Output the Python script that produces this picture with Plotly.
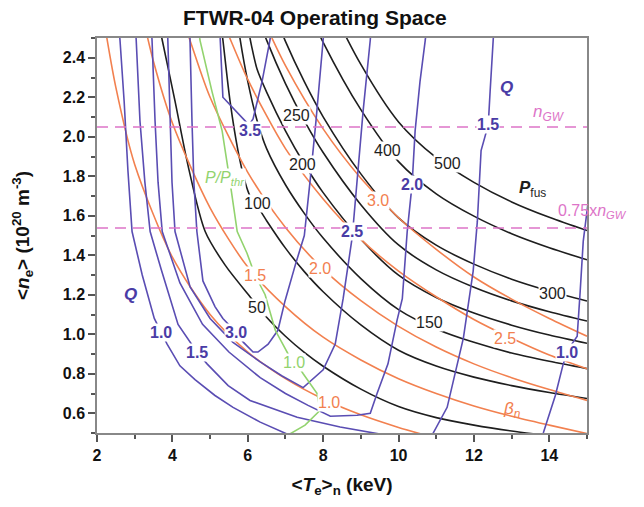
import plotly.graph_objects as go

# ---------------- data ----------------
# Fusion power contours P_fus (MW): T (keV), n (1e20 m^-3)
P50_T = [3.65, 3.73, 4.07, 4.42, 4.87, 5.40, 6.06, 6.5, 7.0, 7.5, 8.0, 9.0, 10.0, 11.0, 12.0, 13.0, 14.0]
P50_n = [2.56, 2.49, 2.18, 1.85, 1.52, 1.35, 1.19, 1.086, 0.99, 0.908, 0.838, 0.722, 0.634, 0.578, 0.54, 0.51, 0.486]
P100_T = [5.30, 5.34, 5.53, 5.74, 5.93, 6.06, 6.25, 6.5, 7.0, 7.5, 8.0, 9.0, 10.0, 11.0, 12.0, 13.0, 14.0, 15.0]
P100_n = [2.55, 2.49, 2.18, 1.93, 1.77, 1.70, 1.65, 1.575, 1.436, 1.317, 1.215, 1.047, 0.919, 0.839, 0.783, 0.740,
          0.705, 0.675]
P150_T = [5.72, 5.80, 6.0, 6.25, 6.5, 7.0, 7.5, 8.0, 9.0, 10.0, 11.0, 12.0, 13.0, 14.0, 15.0]
P150_n = [2.60, 2.49, 2.28, 2.08, 1.94, 1.757, 1.612, 1.487, 1.282, 1.125, 1.027, 0.959, 0.905, 0.863, 0.826]
P200_T = [6.0, 6.1, 6.25, 6.5, 7.0, 7.5, 8.0, 9.0, 10.0, 11.0, 12.0, 13.0, 14.0, 15.0]
P200_n = [2.56, 2.46, 2.34, 2.226, 2.03, 1.862, 1.717, 1.481, 1.299, 1.186, 1.107, 1.046, 0.996, 0.954]
P250_T = [6.0, 6.5, 7.0, 7.5, 8.0, 9.0, 10.0, 11.0, 12.0, 13.0, 14.0, 15.0]
P250_n = [2.75, 2.489, 2.269, 2.082, 1.92, 1.656, 1.452, 1.326, 1.238, 1.169, 1.114, 1.067]
P300_T = [6.5, 7.0, 7.5, 8.0, 9.0, 10.0, 11.0, 12.0, 13.0, 14.0, 15.0]
P300_n = [2.724, 2.483, 2.279, 2.101, 1.812, 1.589, 1.451, 1.355, 1.279, 1.219, 1.168]
P400_T = [7.0, 7.5, 8.0, 9.0, 10.0, 11.0, 12.0, 13.0, 14.0, 15.0]
P400_n = [2.929, 2.687, 2.478, 2.137, 1.874, 1.711, 1.598, 1.509, 1.438, 1.377]
P500_T = [7.5, 8.0, 9.0, 10.0, 11.0, 12.0, 13.0, 14.0, 15.0]
P500_n = [2.975, 2.743, 2.366, 2.075, 1.894, 1.769, 1.670, 1.592, 1.525]

# Normalised beta contours
B10_T = [2.2, 2.5, 3.0, 4.0, 5.0, 6.0, 7.0, 8.0, 9.0, 10.0, 10.6]
B10_n = [2.57, 2.25, 1.86, 1.39, 1.10, 0.91, 0.775, 0.672, 0.592, 0.528, 0.495]
B15_T = [3.2, 3.5, 4.0, 5.0, 6.0, 7.0, 8.0, 9.0, 10.0, 11.0, 12.0, 13.0, 14.0, 15.0]
B15_n = [2.62, 2.38, 2.07, 1.64, 1.34, 1.14, 0.985, 0.87, 0.775, 0.70, 0.637, 0.585, 0.54, 0.497]
B20_T = [4.3, 4.5, 5.0, 6.0, 7.0, 8.0, 9.0, 10.0, 11.0, 12.0, 13.0, 14.0, 15.0]
B20_n = [2.58, 2.47, 2.2, 1.82, 1.54, 1.33, 1.17, 1.04, 0.935, 0.85, 0.78, 0.72, 0.665]
B25_T = [5.3, 5.5, 6.0, 7.0, 8.0, 9.0, 10.0, 11.0, 12.0, 13.0, 14.0, 15.0]
B25_n = [2.6, 2.51, 2.29, 1.94, 1.685, 1.48, 1.32, 1.19, 1.075, 0.98, 0.895, 0.825]
B30_T = [6.4, 7.0, 8.0, 9.0, 10.0, 11.0, 12.0, 13.0, 14.0, 15.0]
B30_n = [2.6, 2.36, 2.04, 1.79, 1.59, 1.43, 1.29, 1.178, 1.08, 0.99]

# Fusion gain Q contours
Q10L_T = [2.58, 2.61, 2.72, 2.82, 2.93, 3.20, 3.52, 3.70, 3.86, 4.20, 4.60, 5.13, 5.61, 6.33, 7.10]
Q10L_n = [2.55, 2.49, 2.18, 1.83, 1.52, 1.30, 1.08, 1.01, 0.95, 0.84, 0.77, 0.69, 0.63, 0.555, 0.49]
Q10R_T = [15.05, 14.90, 14.82, 14.74, 14.56, 14.48, 14.37, 14.16, 13.84, 13.80]
Q10R_n = [1.70, 1.47, 1.22, 0.99, 0.94, 0.91, 0.85, 0.69, 0.50, 0.48]
Q15L_T = [3.02, 3.04, 3.14, 3.27, 3.41, 3.70, 4.15, 4.65, 4.92, 5.48, 6.06, 7.31, 8.45, 9.38, 9.50]
Q15L_n = [2.55, 2.49, 2.08, 1.77, 1.52, 1.33, 1.05, 0.91, 0.85, 0.74, 0.665, 0.58, 0.53, 0.50, 0.495]
Q15R_T = [10.88, 10.92, 11.29, 11.72, 11.98, 12.09, 12.19, 12.38, 12.43, 12.51, 12.53]
Q15R_n = [0.48, 0.50, 0.63, 0.98, 1.32, 1.57, 1.93, 2.06, 2.23, 2.49, 2.55]
Q20_T = [3.44, 3.46, 3.54, 3.62, 3.73, 4.20, 4.80, 5.50, 6.33, 7.00, 7.60, 8.19, 8.90, 9.25, 9.43, 9.72, 9.96,
         10.10, 10.23, 10.36, 10.44, 10.57, 10.71, 10.74]
Q20_n = [2.55, 2.49, 2.08, 1.77, 1.52, 1.26, 1.05, 0.91, 0.78, 0.70, 0.64, 0.585, 0.59, 0.60, 0.70, 0.85, 1.07,
         1.18, 1.52, 1.76, 2.03, 2.28, 2.49, 2.55]
Q25_T = [3.87, 3.88, 3.94, 3.99, 4.07, 4.47, 5.00, 5.60, 6.33, 6.90, 7.47, 8.00, 8.32, 8.53, 8.77, 8.90, 9.06, 9.25, 9.27]
Q25_n = [2.55, 2.49, 2.08, 1.77, 1.52, 1.24, 1.08, 0.96, 0.86, 0.79, 0.73, 0.82, 0.95, 1.18, 1.49, 1.77, 2.13, 2.49, 2.55]
Q30_T = [4.46, 4.47, 4.52, 4.57, 4.65, 4.81, 5.13, 5.34, 5.69, 5.88, 6.14, 6.27, 6.54, 6.80, 6.99, 7.26, 7.50,
         7.65, 7.81, 8.00, 8.02]
Q30_n = [2.55, 2.49, 2.08, 1.77, 1.52, 1.27, 1.14, 1.08, 1.01, 0.96, 0.91, 0.91, 0.95, 1.02, 1.17, 1.35, 1.50,
         1.77, 2.08, 2.49, 2.55]
Q35_T = [5.26, 5.27, 5.34, 5.88, 6.03, 6.14, 6.38, 6.59, 6.62]
Q35_n = [2.55, 2.49, 2.20, 2.09, 2.06, 2.09, 2.28, 2.49, 2.55]

# Power threshold ratio P/P_thr = 1
G_T = [4.70, 4.73, 5.05, 5.32, 5.53, 5.72, 5.98, 6.19, 6.46, 6.73, 7.07, 7.28, 7.47, 7.84, 7.92, 7.52, 7.07, 7.0]
G_n = [2.55, 2.49, 2.23, 2.03, 1.77, 1.52, 1.41, 1.30, 1.20, 1.02, 0.90, 0.857, 0.80, 0.70, 0.615, 0.54, 0.49, 0.47]

# Greenwald density limit
N_GW = 2.05
N_GW_FRAC = 0.75

# Contour labels: text, T, n
PFUS_LABELS = ["50", "100", "150", "200", "250", "300", "400", "500"]
PFUS_LAB_T = [6.25, 6.25, 10.81, 7.44, 7.28, 14.08, 9.72, 11.29]
PFUS_LAB_N = [1.135, 1.66, 1.06, 1.86, 2.11, 1.205, 1.93, 1.865]
BETA_LABELS = ["1.0", "1.5", "2.0", "2.5", "3.0"]
BETA_LAB_T = [8.16, 6.19, 7.92, 12.83, 9.46]
BETA_LAB_N = [0.655, 1.295, 1.335, 0.98, 1.675]
Q_LABELS = ["1.0", "1.5", "3.0", "3.5", "2.5", "2.0", "1.5", "1.0"]
Q_LAB_T = [3.70, 4.65, 5.69, 6.06, 8.77, 10.36, 12.38, 14.48]
Q_LAB_N = [1.01, 0.91, 1.01, 2.03, 1.52, 1.76, 2.06, 0.91]

X_TICKS = [2, 4, 6, 8, 10, 12, 14]
Y_TICKS = [0.6, 0.8, 1.0, 1.2, 1.4, 1.6, 1.8, 2.0, 2.2, 2.4]

# ---------------- styling ----------------
FONT = "Liberation Sans, Arial, sans-serif"
C_BLACK = "#1e1e1e"
C_ORANGE = "#f2804f"
C_BLUE = "#5a4db3"
C_BLUE_TXT = "#4a3ca6"
C_GREEN = "#92d36e"
C_PINK = "#dd74c8"
LW = 1.6

fig = go.Figure()


def add_line(T, n, color, shape="spline"):
    fig.add_trace(go.Scatter(x=T, y=n, mode="lines", line=dict(color=color, width=LW, shape=shape, smoothing=0.8),
                             hoverinfo="skip", showlegend=False))


for T, n in [(P50_T, P50_n), (P100_T, P100_n), (P150_T, P150_n), (P200_T, P200_n),
             (P250_T, P250_n), (P300_T, P300_n), (P400_T, P400_n), (P500_T, P500_n)]:
    add_line(T, n, C_BLACK)
for T, n in [(B10_T, B10_n), (B15_T, B15_n), (B20_T, B20_n), (B25_T, B25_n), (B30_T, B30_n)]:
    add_line(T, n, C_ORANGE)
for T, n in [(Q10L_T, Q10L_n), (Q10R_T, Q10R_n), (Q15L_T, Q15L_n), (Q15R_T, Q15R_n),
             (Q20_T, Q20_n), (Q25_T, Q25_n), (Q30_T, Q30_n), (Q35_T, Q35_n)]:
    add_line(T, n, C_BLUE, shape="linear")
add_line(G_T, G_n, C_GREEN, shape="linear")

for nv in [N_GW, N_GW * N_GW_FRAC]:
    fig.add_trace(go.Scatter(x=[2, 15], y=[nv, nv], mode="lines",
                             line=dict(color=C_PINK, width=1.5, dash="11px,7px"),
                             hoverinfo="skip", showlegend=False))

ann = []


def label(text, x, y, color, size=16, bg="white", **kw):
    ann.append(dict(text=text, x=x, y=y, xref="x", yref="y", showarrow=False,
                    font=dict(family=FONT, size=size, color=color),
                    bgcolor=bg, borderpad=0, **kw))


for t, x, y in zip(PFUS_LABELS, PFUS_LAB_T, PFUS_LAB_N):
    label(t, x, y, C_BLACK)
for t, x, y in zip(BETA_LABELS, BETA_LAB_T, BETA_LAB_N):
    label(t, x, y, C_ORANGE)
for t, x, y in zip(Q_LABELS, Q_LAB_T, Q_LAB_N):
    label("<b>" + t + "</b>", x, y, C_BLUE_TXT)
label("1.0", 7.23, 0.857, C_GREEN)
label("<i>P/P<sub>thr</sub></i>", 5.40, 1.79, C_GREEN, size=16)
label("<b><i>Q</i></b>", 2.90, 1.20, C_BLUE_TXT, size=17, bg=None)
label("<b><i>Q</i></b>", 12.86, 2.25, C_BLUE_TXT, size=17, bg=None)
label("<b><i>P</i></b><sub>fus</sub>", 13.55, 1.735, C_BLACK, size=17, bg=None)
label("<i>β<sub>n</sub></i>", 13.02, 0.615, C_ORANGE, size=17, bg=None)
label("<i>n<sub>GW</sub></i>", 14.0, 2.12, C_PINK, size=17, bg=None)
label("0.75x<i>n<sub>GW</sub></i>", 14.21, 1.62, C_PINK, size=16, bg=None, xanchor="left")

fig.update_layout(
    width=644, height=507,
    margin=dict(l=97, r=57, t=38, b=74, autoexpand=False),
    paper_bgcolor="white", plot_bgcolor="white",
    font=dict(family=FONT, color="#111"),
    title=dict(text="<b>FTWR-04 Operating Space</b>", x=0.489, xanchor="center", y=0.966, yanchor="middle",
               font=dict(family=FONT, size=21, color="#111")),
    annotations=ann,
)
fig.update_xaxes(range=[2, 15], tickvals=X_TICKS, ticktext=["<b>%d</b>" % v for v in X_TICKS],
                 ticks="outside", ticklen=7, tickwidth=1.5, tickcolor="#555", automargin=False,
                 minor=dict(dtick=1, tick0=0, ticks="outside", ticklen=4, tickwidth=1.5, tickcolor="#555"),
                 showline=True, linecolor="#888", linewidth=1.5, mirror=True, showgrid=False, zeroline=False,
                 tickfont=dict(family=FONT, size=16, color="#111"),
                 title=dict(text="<b>&lt;<i>T</i><sub>e</sub>&gt;<sub>n</sub> (keV)</b>",
                            font=dict(family=FONT, size=19, color="#111"), standoff=15))
fig.update_yaxes(range=[0.5, 2.5], tickvals=Y_TICKS, ticktext=["<b>%.1f</b>" % v for v in Y_TICKS],
                 ticks="outside", ticklen=7, tickwidth=1.5, tickcolor="#555", automargin=False,
                 minor=dict(dtick=0.1, tick0=0.5, ticks="outside", ticklen=4, tickwidth=1.5, tickcolor="#555"),
                 showline=True, linecolor="#888", linewidth=1.5, mirror=True, showgrid=False, zeroline=False,
                 tickfont=dict(family=FONT, size=16, color="#111"),
                 title=dict(text="<b>&lt;<i>n</i><sub>e</sub>&gt; (10<sup>20</sup> m<sup>-3</sup>)</b>",
                            font=dict(family=FONT, size=19, color="#111"), standoff=28))

fig.write_html("out.html", config={"displayModeBar": False},
               post_script="document.body.style.margin='0';")
